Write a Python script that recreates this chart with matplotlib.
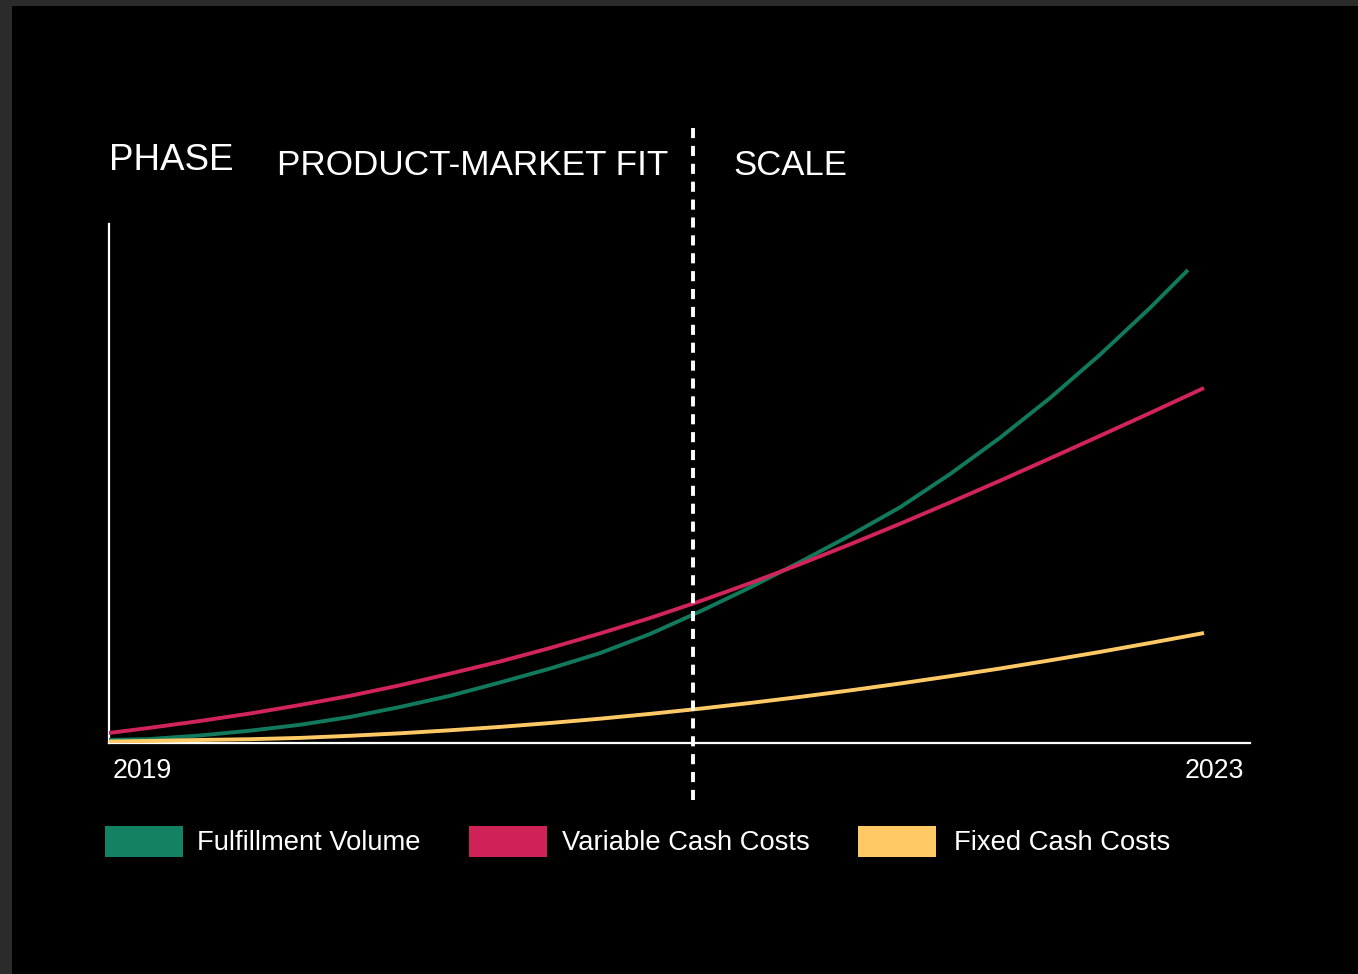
import matplotlib
matplotlib.use("Agg")
import matplotlib.pyplot as plt
from matplotlib.patches import Rectangle

plt.rcParams['font.family'] = ['Liberation Sans', 'DejaVu Sans']

# ---- data ----
years = [2019.000, 2019.1437, 2019.3190, 2019.4943, 2019.6696, 2019.8449, 2020.0202,
         2020.1955, 2020.3707, 2020.5460, 2020.7213, 2020.8966, 2021.0719, 2021.2472,
         2021.4225, 2021.5978, 2021.7730, 2021.9483, 2022.1236, 2022.2989, 2022.4742,
         2022.6495]

green_x = years + [2022.7827]
green_y = [0.58, 0.77, 1.45, 2.37, 3.51, 5.01, 6.94, 9.09, 11.66, 14.34, 17.32,
           21.00, 25.34, 29.96, 34.87, 39.98, 45.41, 51.81, 58.81, 66.47, 74.82,
           83.83, 91.14]

red_x = years + [2022.8387]
red_y = [1.93, 2.93, 4.24, 5.68, 7.32, 9.09, 11.12, 13.37, 15.70, 18.30, 21.10,
         24.08, 27.32, 30.79, 34.45, 38.27, 42.24, 46.34, 50.54, 54.84, 59.19,
         63.58, 68.40]

yellow_x = years + [2022.8387]
yellow_y = [0.29, 0.40, 0.58, 0.73, 0.98, 1.39, 1.87, 2.45, 3.10, 3.85, 4.68,
            5.61, 6.61, 7.71, 8.88, 10.13, 11.46, 12.87, 14.35, 15.92, 17.55,
            19.27, 21.19]

series_labels = ["Fulfillment Volume", "Variable Cash Costs", "Fixed Cash Costs"]
line_colors = ["#117a5c", "#d0245a", "#ffc966"]
patch_colors = ["#128262", "#cf2257", "#ffc966"]

year_labels = ["2019", "2023"]
phase_split = 2021.047
phase_title = "PHASE"
phase_names = ["PRODUCT-MARKET FIT", "SCALE"]

W, H = 1358, 974
fig = plt.figure(figsize=(W / 100, H / 100), dpi=100)
fig.patch.set_facecolor("#2b2b2b")

bg = fig.add_axes([12 / W, 0, 1 - 12 / W, 1 - 6 / H], zorder=-5)
bg.set_facecolor("black")
bg.set_xticks([])
bg.set_yticks([])
for s in bg.spines.values():
    s.set_visible(False)

ax = fig.add_axes([109 / W, 1 - 743 / H, (1250 - 109) / W, (743 - 224) / H], zorder=1)
ax.set_facecolor("none")
ax.set_xlim(2019, 2023)
ax.set_ylim(0, 100)

for xs, ys, c in zip([green_x, red_x, yellow_x], [green_y, red_y, yellow_y], line_colors):
    ax.plot(xs, ys, color=c, lw=2.8, solid_capstyle="butt", solid_joinstyle="round", zorder=3)
for s in ("top", "right"):
    ax.spines[s].set_visible(False)
for s in ("left", "bottom"):
    ax.spines[s].set_color("white")
    ax.spines[s].set_linewidth(1.6)
ax.set_xticks([])
ax.set_yticks([])

# dashed phase divider, extends beyond the axes
ax.plot([phase_split, phase_split], [-10.98, 118.5], color="white", lw=2.8,
        dashes=(2.6, 2.0), clip_on=False, zorder=4)

# year labels
fig.text(113 / W, 1 - 771.5 / H, year_labels[0], color="white", fontsize=19.3,
         ha="left", va="center")
fig.text(1244 / W, 1 - 771.5 / H, year_labels[1], color="white", fontsize=19.3,
         ha="right", va="center")

# phase labels
fig.text(109 / W, 1 - 161 / H, phase_title, color="white", fontsize=26.5,
         ha="left", va="center")
fig.text(277 / W, 1 - 165.5 / H, phase_names[0], color="white", fontsize=25.3,
         ha="left", va="center")
fig.text(733 / W, 1 - 165.5 / H, phase_names[1], color="white", fontsize=25,
         ha="left", va="center")

# legend
patch_x = [105, 469, 858]
text_x = [197, 562, 954]
for px, tx, lab, c in zip(patch_x, text_x, series_labels, patch_colors):
    fig.patches.append(Rectangle((px / W, 1 - 857 / H), 78 / W, 31 / H,
                                 transform=fig.transFigure, facecolor=c,
                                 edgecolor="none", zorder=2))
    fig.text(tx / W, 1 - 843 / H, lab, color="white", fontsize=19.7,
             ha="left", va="center")

fig.savefig("out.png", dpi=100, facecolor=fig.get_facecolor())
